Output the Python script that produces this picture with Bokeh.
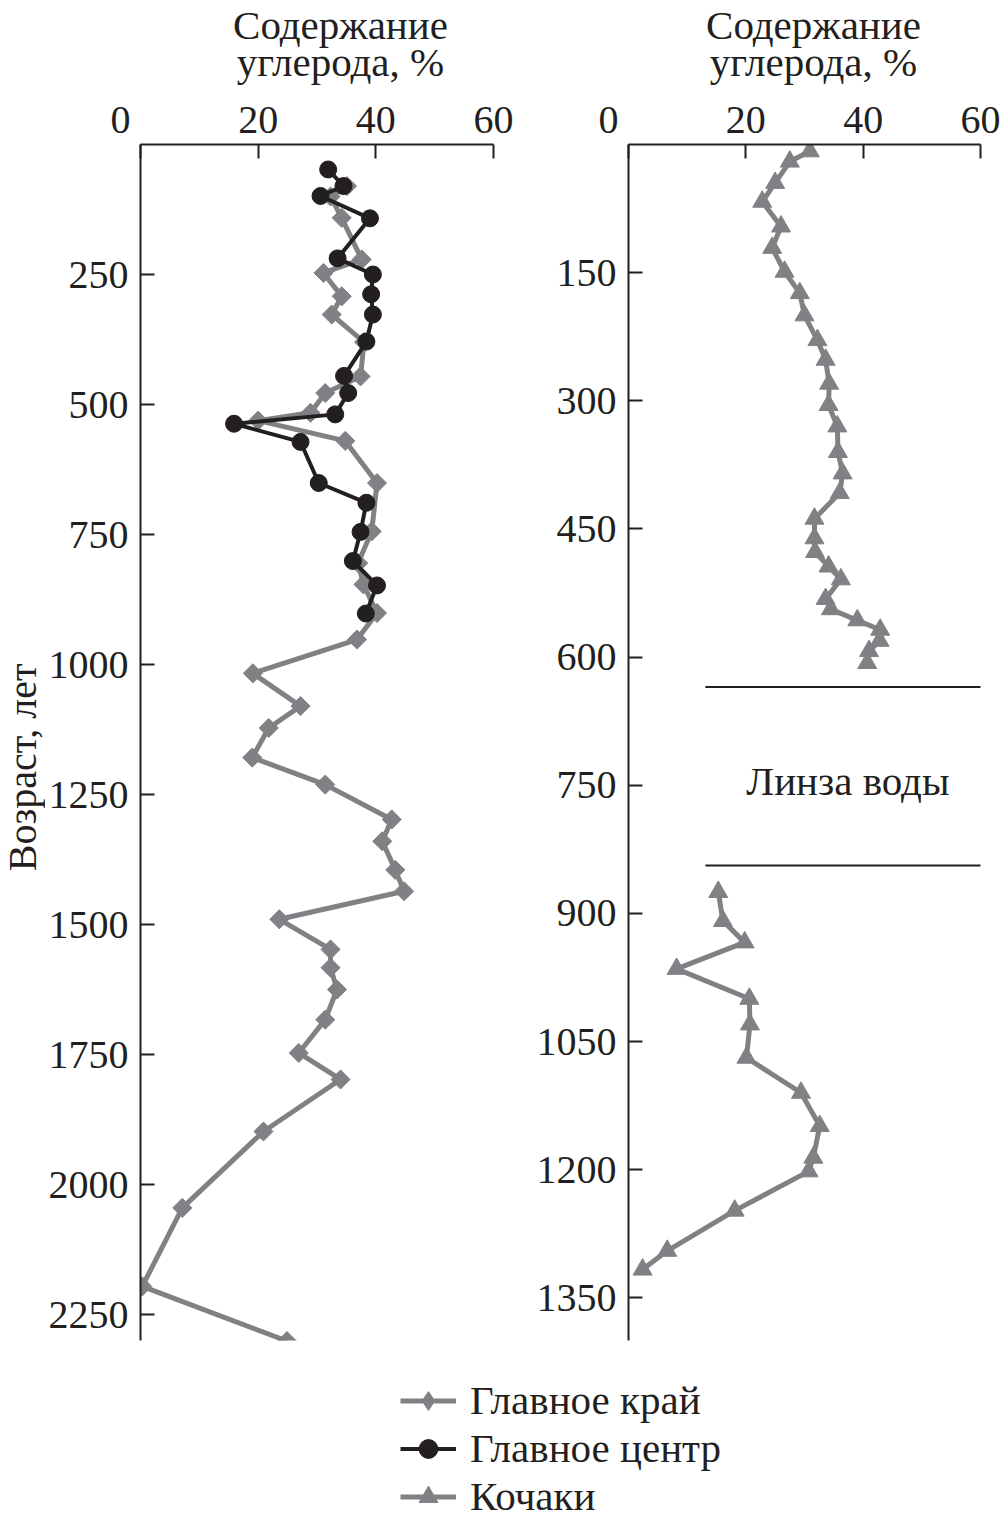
from bokeh.plotting import figure
from bokeh.models import Range1d, FixedTicker, Label, Legend, LegendItem
from bokeh.layouts import column, row
from bokeh.embed import file_html
from bokeh.resources import INLINE
from bokeh.core.properties import value
import math

FONT = "Liberation Serif"
GRAY = "#808184"
BLACK = "#231f20"
FS = "41px"
TICK_FS = "40px"

# ---- Data: Главное край (gray diamonds) ----
edge_age = [80, 100, 141, 221, 247, 292, 327, 380, 446, 478, 516, 531, 570, 651, 744,
            805, 846, 901, 952, 1017, 1080, 1122, 1179, 1231, 1298, 1340, 1395, 1436,
            1490, 1548, 1583, 1625, 1683, 1747, 1798, 1898, 2045, 2196, 2301]
edge_c = [35.1, 32.3, 34.2, 37.6, 31.1, 34.2, 32.5, 38.0, 37.4, 31.4, 28.9, 20.0, 34.8,
          40.2, 39.3, 37.0, 37.9, 40.2, 36.8, 19.1, 27.2, 21.8, 19.0, 31.4, 42.7, 41.1,
          43.3, 44.8, 23.6, 32.3, 32.3, 33.4, 31.4, 26.9, 34.0, 20.9, 7.1, 0.3, 24.9]

# ---- Data: Главное центр (black circles) ----
center_age = [48, 80, 99, 142, 219, 250, 288, 327, 379, 445, 478, 519, 537, 572, 651,
              689, 745, 801, 848, 902]
center_c = [31.9, 34.5, 30.6, 39.0, 33.5, 39.5, 39.2, 39.5, 38.4, 34.6, 35.3, 33.1, 15.9,
            27.2, 30.3, 38.4, 37.4, 36.1, 40.2, 38.3]

# ---- Data: Кочаки (gray triangles), above and below the water lens ----
koch_top_age = [8, 20, 45, 67, 96, 121, 149, 174, 200, 229, 252, 280, 305, 330, 360, 385,
                408, 438, 461, 477, 494, 509, 532, 544, 557, 568, 581, 593, 607]
koch_top_c = [30.9, 27.5, 25.0, 22.8, 26.0, 24.5, 26.6, 29.2, 30.0, 32.2, 33.6, 34.2,
              34.1, 35.6, 35.7, 36.5, 36.0, 31.7, 31.7, 31.8, 34.1, 36.2, 33.6, 34.5,
              39.0, 42.9, 42.8, 41.0, 40.7]
koch_bot_age = [875, 909, 934, 965, 1000, 1030, 1069, 1110, 1149, 1186, 1202, 1248, 1295, 1317]
koch_bot_c = [15.3, 16.1, 19.8, 8.2, 20.6, 20.7, 20.1, 29.4, 32.6, 31.5, 30.7, 18.1, 6.6, 2.4]

# Water lens boundaries (Кочаки)
lens_ages = [635, 844]
lens_c_start = [13.1, 13.1]
lens_c_end = [61.3, 61.3]

x_ticks = [0, 20, 40, 60]
left_y_ticks = [250, 500, 750, 1000, 1250, 1500, 1750, 2000, 2250]
right_y_ticks = [150, 300, 450, 600, 750, 900, 1050, 1200, 1350]

TITLE_1 = "Содержание"
TITLE_2 = "углерода, %"
Y_LABEL = "Возраст, лет"
LENS_LABEL = "Линза воды"
LEGEND_LABELS = ["Главное край", "Главное центр", "Кочаки"]

HEADER_H = 90
PANEL_TOP = 144 - HEADER_H
PANEL_H = PANEL_TOP + 1196 + 2
YLAB_W = 45


def bare_figure(w, h, xr, yr):
    f = figure(width=w, height=h, x_range=xr, y_range=yr, title=None,
               x_axis_location=None, y_axis_location=None, toolbar_location=None,
               output_backend="svg", min_border=0, outline_line_color=None)
    f.grid.visible = False
    return f


def make_panel(y_end, y_ticks, frame_w, b_left, b_right):
    p = figure(frame_width=frame_w, frame_height=1196, title=None,
               x_range=Range1d(0, 60), y_range=Range1d(y_end, 0),
               x_axis_location="above", output_backend="svg", toolbar_location=None,
               min_border_left=b_left, min_border_right=b_right,
               min_border_top=PANEL_TOP, min_border_bottom=2)
    p.grid.visible = False
    p.outline_line_color = None
    p.xaxis.ticker = FixedTicker(ticks=x_ticks)
    # the "0" sits left of its tick, clear of the vertical axis
    p.xaxis.major_label_overrides = {0: "0\u00a0\u00a0\u00a0\u00a0"}
    p.yaxis.ticker = FixedTicker(ticks=y_ticks)
    for ax in p.axis:
        ax.axis_line_color = BLACK
        ax.axis_line_width = 2
        ax.major_tick_line_color = BLACK
        ax.major_tick_line_width = 2
        ax.major_tick_in = 14
        ax.major_tick_out = 0
        ax.minor_tick_line_color = None
        ax.major_label_text_font = FONT
        ax.major_label_text_font_size = TICK_FS
        ax.major_label_text_color = BLACK
    p.xaxis.major_label_standoff = 3
    p.yaxis.major_label_standoff = 12
    return p


# ---- Header with the axis titles ----
header = bare_figure(1002, HEADER_H, Range1d(0, 1002), Range1d(HEADER_H, 0))
for cx in (340, 813):
    header.add_layout(Label(x=cx, y=24, text=TITLE_1, text_align="center",
                            text_baseline="alphabetic", text_font=FONT,
                            text_font_size=FS, text_color=BLACK))
    header.add_layout(Label(x=cx, y=61, text=TITLE_2, text_align="center",
                            text_baseline="alphabetic", text_font=FONT,
                            text_font_size=FS, text_color=BLACK))

# ---- Strip with the vertical axis title ----
ylab = bare_figure(YLAB_W, PANEL_H, Range1d(0, YLAB_W), Range1d(PANEL_H, 0))
ylab.add_layout(Label(x=21.5, y=PANEL_TOP + 598, text=Y_LABEL, angle=math.pi / 2,
                      text_align="center", text_baseline="alphabetic", text_font=FONT,
                      text_font_size="40px", text_color=BLACK))

left = make_panel(2300, left_y_ticks, 353, 140 - YLAB_W, 35)
left.line(edge_c, edge_age, line_color=GRAY, line_width=5)
left.scatter(edge_c, edge_age, marker="square", angle=math.pi / 4, size=13.5,
             fill_color=GRAY, line_color=GRAY)
left.line(center_c, center_age, line_color=BLACK, line_width=4)
left.scatter(center_c, center_age, marker="circle", size=17,
             fill_color=BLACK, line_color=BLACK)

right = make_panel(1400, right_y_ticks, 352, 100, 22)
right.line(koch_top_c, koch_top_age, line_color=GRAY, line_width=5)
right.scatter(koch_top_c, koch_top_age, marker="triangle", size=19,
              fill_color=GRAY, line_color=GRAY)
right.line(koch_bot_c, koch_bot_age, line_color=GRAY, line_width=5)
right.scatter(koch_bot_c, koch_bot_age, marker="triangle", size=19,
              fill_color=GRAY, line_color=GRAY)
right.segment(x0=lens_c_start, x1=lens_c_end, y0=lens_ages, y1=lens_ages,
              line_color=BLACK, line_width=2)
right.text(x=[37.4], y=[745], text=[LENS_LABEL], text_font=value(FONT),
           text_font_size=FS, text_align="center", text_baseline="middle",
           text_color=BLACK)

# ---- Legend figure (its renderers hold the series but lie outside its view) ----
lf = bare_figure(1002, 184, Range1d(-10, -9), Range1d(-10, -9))
l1 = lf.line(edge_c, edge_age, line_color=GRAY, line_width=5)
s1 = lf.scatter(edge_c, edge_age, marker="diamond", size=20,
                fill_color=GRAY, line_color=GRAY)
l2 = lf.line(center_c, center_age, line_color=BLACK, line_width=4)
s2 = lf.scatter(center_c, center_age, marker="circle", size=17,
                fill_color=BLACK, line_color=BLACK)
l3 = lf.line(koch_top_c, koch_top_age, line_color=GRAY, line_width=5)
s3 = lf.scatter(koch_top_c, koch_top_age, marker="triangle", size=19,
                fill_color=GRAY, line_color=GRAY)
legend = Legend(items=[LegendItem(label=LEGEND_LABELS[0], renderers=[l1, s1]),
                       LegendItem(label=LEGEND_LABELS[1], renderers=[l2, s2]),
                       LegendItem(label=LEGEND_LABELS[2], renderers=[l3, s3])],
                location=(400, 6), padding=0, spacing=0, glyph_width=56,
                glyph_height=47, label_height=47, label_standoff=14,
                label_text_font=FONT, label_text_font_size=FS,
                label_text_color=BLACK, border_line_color=None,
                background_fill_alpha=0)
lf.add_layout(legend)

layout = column(header, row(ylab, left, right), lf)
open("out.html", "w").write(file_html(layout, INLINE))
